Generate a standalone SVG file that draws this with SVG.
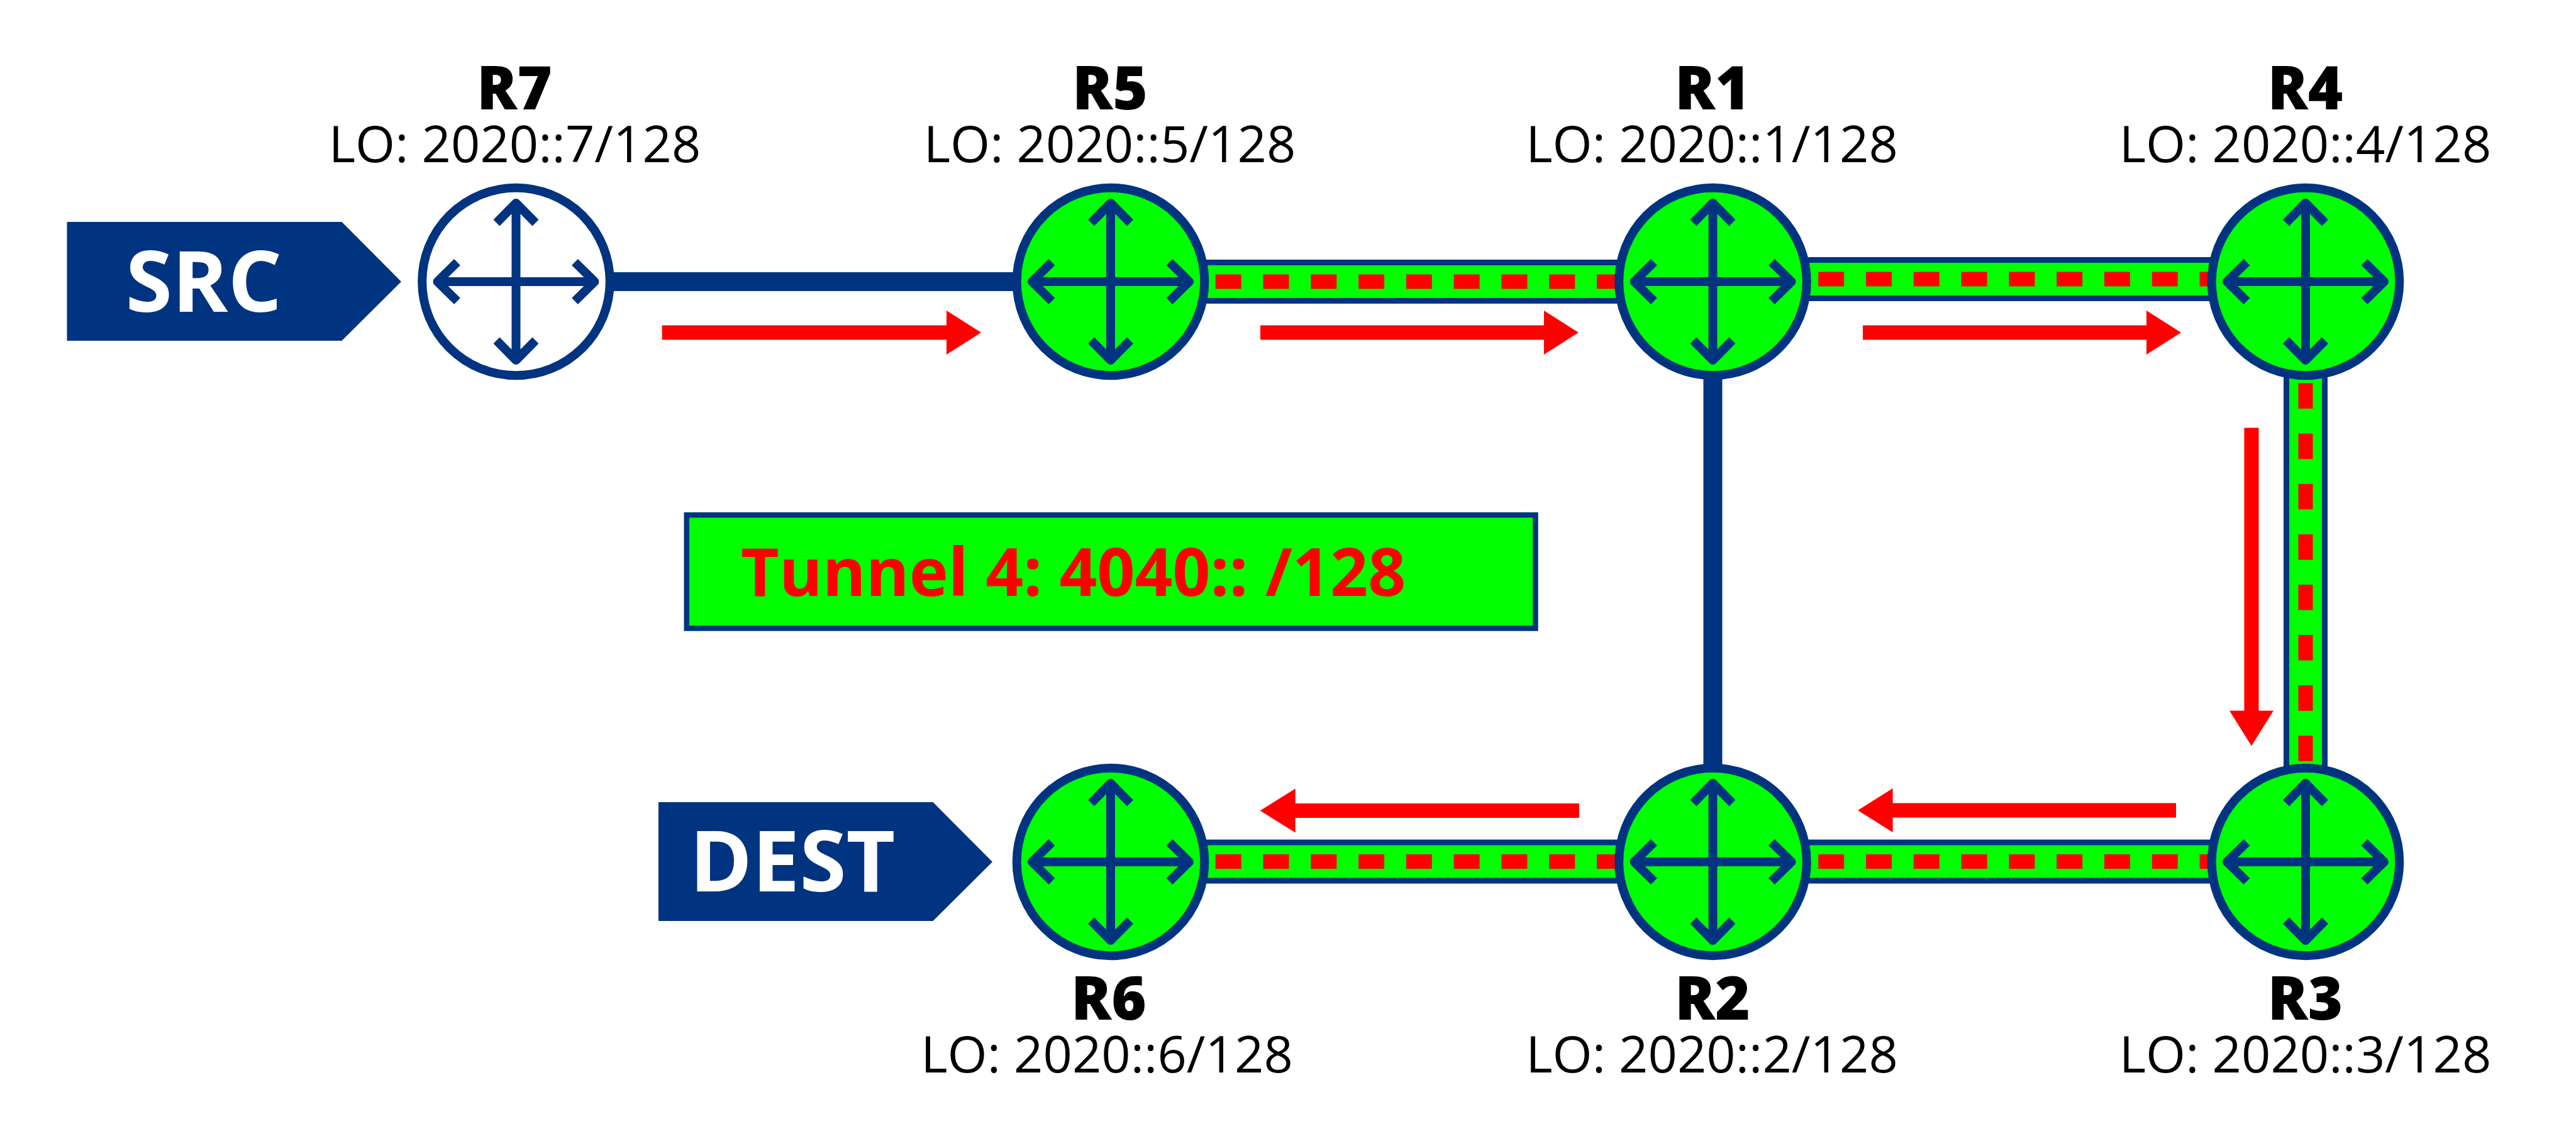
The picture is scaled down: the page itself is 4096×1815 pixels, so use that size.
<svg xmlns="http://www.w3.org/2000/svg" xmlns:xlink="http://www.w3.org/1999/xlink" width="4096" height="1815" viewBox="0 0 4096 1815">
<style>
text{font-family:"Open Sans","Noto Sans",sans-serif;text-anchor:middle}
.name{font-size:94.9px;font-weight:800;fill:#000}
.lo{font-size:81.2px;fill:#000}
.tag{font-size:134.5px;font-weight:700;fill:#fff}
.tun{font-size:105px;font-weight:700;fill:#ff0000;text-anchor:start}
.ring{stroke:#003380;stroke-width:14;fill:#00ff00}
.ic{stroke:#003380;stroke-width:14;fill:none;stroke-linejoin:round}
.solid{stroke:#003380;stroke-width:30;fill:none}
.o{stroke:#003380;stroke-width:70;fill:none}
.g{stroke:#00ff00;stroke-width:52;fill:none}
.d{stroke:#ff0000;stroke-width:23;stroke-dasharray:41 34.800;fill:none}
.dv{stroke:#ff0000;stroke-width:23;stroke-dasharray:40.500 39.600;fill:none}
.a{stroke:#ff0000;stroke-width:23;fill:none}
.h{fill:#ff0000}
.b{fill:#003380}
</style>
<defs>
<g id="icon">
<path class="ic" d="M0-128V128M-128 0H128M-31-93.500L0-125 31-93.500M-31 93.500L0 125 31 93.500M-93.500-31L-125 0-93.500 31M93.500-31L125 0 93.500 31"/>
</g>
</defs>
<g id="connectors">
<path class="solid" d="M820.500 448H1766"/>
<path class="solid" d="M2723.500 448V1371"/>
<path class="o" d="M1766 448H2723.500"/><path class="g" d="M1766 448H2723.500"/><path class="d" d="M1932.700 448H2581"/>
<path class="o" d="M2723.500 444H3666"/><path class="g" d="M2723.500 444H3666"/><path class="d" d="M2891.200 444H3540"/>
<path class="o" d="M3666 448V1371"/><path class="g" d="M3666 448V1371"/><path class="dv" d="M3666 609.600V1211"/>
<path class="o" d="M3666 1370.500H2723.500"/><path class="g" d="M3666 1370.500H2723.500"/><path class="d" d="M2891.200 1370.500H3540"/>
<path class="o" d="M2723.500 1370.500H1766"/><path class="g" d="M2723.500 1370.500H1766"/><path class="d" d="M1932.700 1370.500H2581"/>
<path class="a" d="M1052.700 529H1506"/><path class="h" d="M1505 494L1560 529 1505 564Z"/>
<path class="a" d="M2004 529H2456"/><path class="h" d="M2455 494L2510 529 2455 564Z"/>
<path class="a" d="M2962 529H3414"/><path class="h" d="M3413 494L3468 529 3413 564Z"/>
<path class="a" d="M3580 680.600V1131.500"/><path class="h" d="M3545 1130.500L3580 1186.500 3615 1130.500Z"/>
<path class="a" d="M3460 1289H3008.600"/><path class="h" d="M3009.600 1254L2954 1289 3009.600 1324Z"/>
<path class="a" d="M2511 1289.500H2058.700"/><path class="h" d="M2059.700 1254.500L2003.700 1289.500 2059.700 1324.500Z"/>
</g>
<g id="src"><path class="b" d="M106.500 353H543.500L638 448 543.500 542H106.500Z"/><text class="tag" x="324" y="496">SRC</text></g>
<g id="dest"><path class="b" d="M1047 1276H1483.500L1578 1371 1483.500 1465H1047Z"/><text class="tag" x="1260" y="1418">DEST</text></g>
<g id="tunnel"><rect x="1091.800" y="819.200" width="1349.700" height="180.300" fill="#00ff00" stroke="#003380" stroke-width="8.500"/><text class="tun" x="1178" y="948">Tunnel 4: 4040:: /128</text></g>
<g id="R7"><circle class="ring" cx="820.500" cy="448" r="149.300" style="fill:#fff"/><use xlink:href="#icon" href="#icon" x="820.500" y="448"/><text class="name" x="818" y="174">R7</text><text class="lo" x="818.500" y="258">LO: 2020::7/128</text></g>
<g id="R5"><circle class="ring" cx="1766" cy="448" r="149.300"/><use xlink:href="#icon" href="#icon" x="1766" y="448"/><text class="name" x="1765" y="174">R5</text><text class="lo" x="1764.500" y="258">LO: 2020::5/128</text></g>
<g id="R1"><circle class="ring" cx="2723.500" cy="448" r="149.300"/><use xlink:href="#icon" href="#icon" x="2723.500" y="448"/><text class="name" x="2723" y="174">R1</text><text class="lo" x="2722" y="258">LO: 2020::1/128</text></g>
<g id="R4"><circle class="ring" cx="3666" cy="448" r="149.300"/><use xlink:href="#icon" href="#icon" x="3666" y="448"/><text class="name" x="3665.500" y="174">R4</text><text class="lo" x="3665.500" y="258">LO: 2020::4/128</text></g>
<g id="R6"><circle class="ring" cx="1766" cy="1371" r="149.300"/><use xlink:href="#icon" href="#icon" x="1766" y="1371"/><text class="name" x="1763" y="1622">R6</text><text class="lo" x="1760" y="1706">LO: 2020::6/128</text></g>
<g id="R2"><circle class="ring" cx="2723.500" cy="1371" r="149.300"/><use xlink:href="#icon" href="#icon" x="2723.500" y="1371"/><text class="name" x="2723" y="1622">R2</text><text class="lo" x="2722" y="1706">LO: 2020::2/128</text></g>
<g id="R3"><circle class="ring" cx="3666" cy="1371" r="149.300"/><use xlink:href="#icon" href="#icon" x="3666" y="1371"/><text class="name" x="3665.500" y="1622">R3</text><text class="lo" x="3665.500" y="1706">LO: 2020::3/128</text></g>
</svg>
